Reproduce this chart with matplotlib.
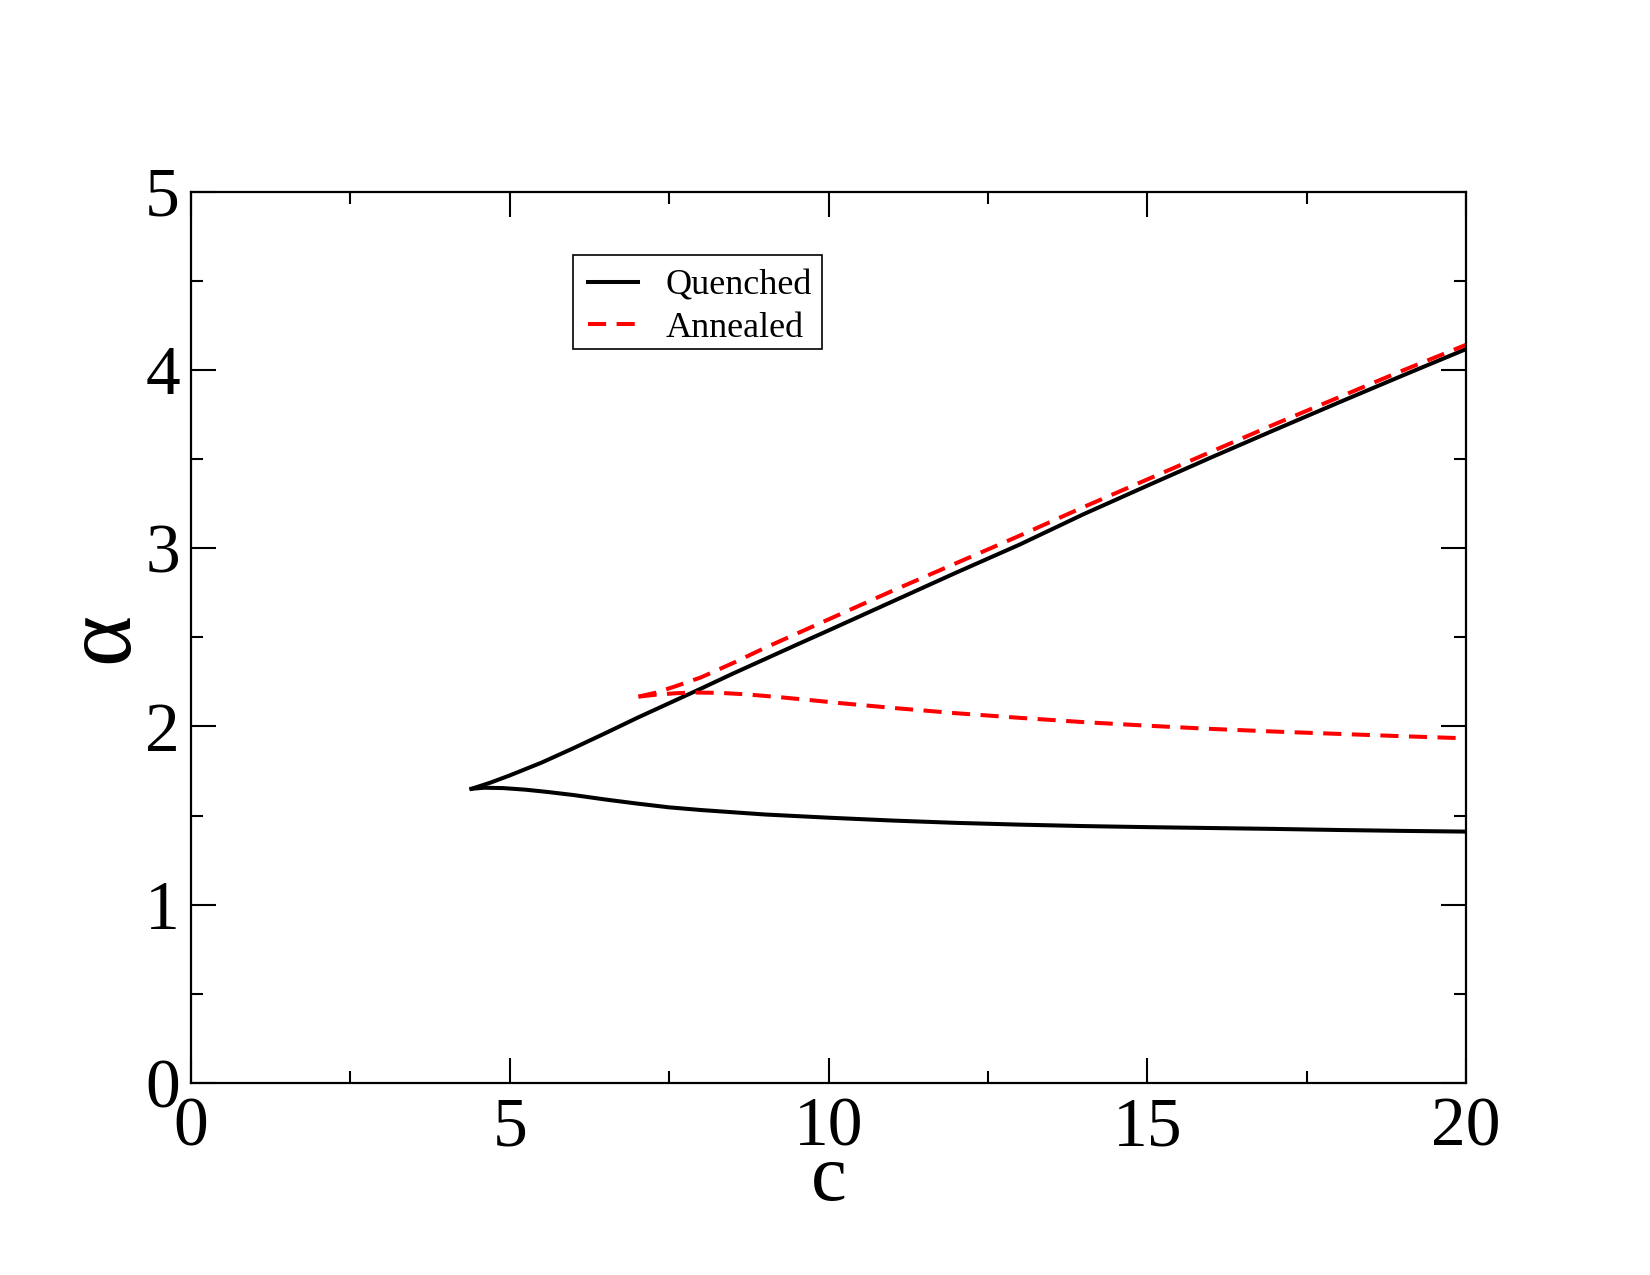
import matplotlib
matplotlib.use("Agg")
import matplotlib.pyplot as plt
from matplotlib.ticker import MultipleLocator
from matplotlib.patches import Rectangle

plt.rcParams['font.family'] = ['Liberation Serif', 'DejaVu Serif']

# Quenched, upper branch
q_up_c = [4.40, 4.7, 5.0, 5.5, 6.0, 6.5, 7.0, 7.5, 8.0, 8.5, 9.0, 9.5, 10, 11, 12,
          13, 14, 15, 16, 17, 18, 19, 20]
q_up_a = [1.65, 1.685, 1.725, 1.797, 1.878, 1.962, 2.048, 2.13, 2.212, 2.296, 2.377,
          2.458, 2.538, 2.70, 2.862, 3.02, 3.19, 3.35, 3.508, 3.663, 3.816, 3.967, 4.116]
# Quenched, lower branch
q_lo_c = [4.40, 4.6, 4.9, 5.25, 5.6, 6.0, 6.5, 7.0, 7.5, 8.0, 9.0, 10.0, 11, 12, 13,
          14, 15, 16, 17, 18, 19, 20]
q_lo_a = [1.65, 1.656, 1.654, 1.645, 1.632, 1.615, 1.59, 1.567, 1.546, 1.531, 1.506,
          1.488, 1.472, 1.459, 1.449, 1.441, 1.435, 1.43, 1.425, 1.419, 1.414, 1.41]
# Annealed, upper branch
a_up_c = [7.02, 7.3, 7.6, 8.0, 8.5, 9.0, 9.5, 10, 11, 12, 13, 14, 15, 16, 17, 18, 19, 20]
a_up_a = [2.167, 2.19, 2.225, 2.275, 2.355, 2.44, 2.52, 2.60, 2.76, 2.915, 3.07, 3.23,
          3.385, 3.54, 3.695, 3.845, 3.995, 4.14]
# Annealed, lower branch
a_lo_c = [7.02, 7.3, 7.6, 7.9, 8.3, 8.7, 9.2, 9.7, 10.2, 11, 12, 13, 14, 15, 16, 17,
          18, 19, 20]
a_lo_a = [2.167, 2.178, 2.186, 2.19, 2.188, 2.18, 2.165, 2.148, 2.13, 2.104, 2.074,
          2.048, 2.024, 2.004, 1.986, 1.971, 1.958, 1.945, 1.933]

x_ticks = [0, 5, 10, 15, 20]
y_ticks = [0, 1, 2, 3, 4, 5]

W, H = 1650, 1275
fig = plt.figure(figsize=(16.5, 12.75), dpi=100)
ax = fig.add_axes([191 / W, 1 - 1083 / H, (1466 - 191) / W, (1083 - 191.5) / H])

lw = 2.9
dash = (4.5, 2.6)
ax.plot(q_up_c, q_up_a, color='black', lw=lw, label='Quenched', solid_joinstyle='round')
ax.plot(q_lo_c, q_lo_a, color='black', lw=lw, solid_joinstyle='round')
ax.plot(a_up_c, a_up_a, color='red', lw=lw, ls=(0, dash), label='Annealed')
ax.plot(a_lo_c, a_lo_a, color='red', lw=lw, ls=(0, dash))

ax.set_xlim(0, 20)
ax.set_ylim(0, 5)
ax.set_xticks(x_ticks)
ax.set_yticks(y_ticks)
ax.xaxis.set_minor_locator(MultipleLocator(2.5))
ax.yaxis.set_minor_locator(MultipleLocator(0.5))
ax.tick_params(which='both', direction='in', top=True, right=True, width=1.5,
               labelsize=50)
ax.tick_params(which='major', length=18)
ax.tick_params(which='minor', length=8.6)
ax.tick_params(axis='x', pad=10)
ax.tick_params(axis='y', pad=8)
for s in ax.spines.values():
    s.set_linewidth(1.6)

ax.set_xlabel('c', fontsize=58, labelpad=-12)
ax.set_ylabel('α', fontsize=70, labelpad=-2)

leg = ax.legend(loc='upper left', bbox_to_anchor=(573.3 / W, 1 - 255 / H),
                bbox_transform=fig.transFigure, borderaxespad=0, fontsize=26,
                frameon=False, handlelength=1.4, handletextpad=0.75, borderpad=0.4,
                labelspacing=0.25)
# legend frame
fig.patches.append(Rectangle((573.3 / W, 1 - 349 / H), (822 - 573.3) / W, (349 - 255) / H,
                             transform=fig.transFigure, fill=False, edgecolor='black',
                             linewidth=1.2, zorder=10))

fig.savefig('out.png', dpi=100)
